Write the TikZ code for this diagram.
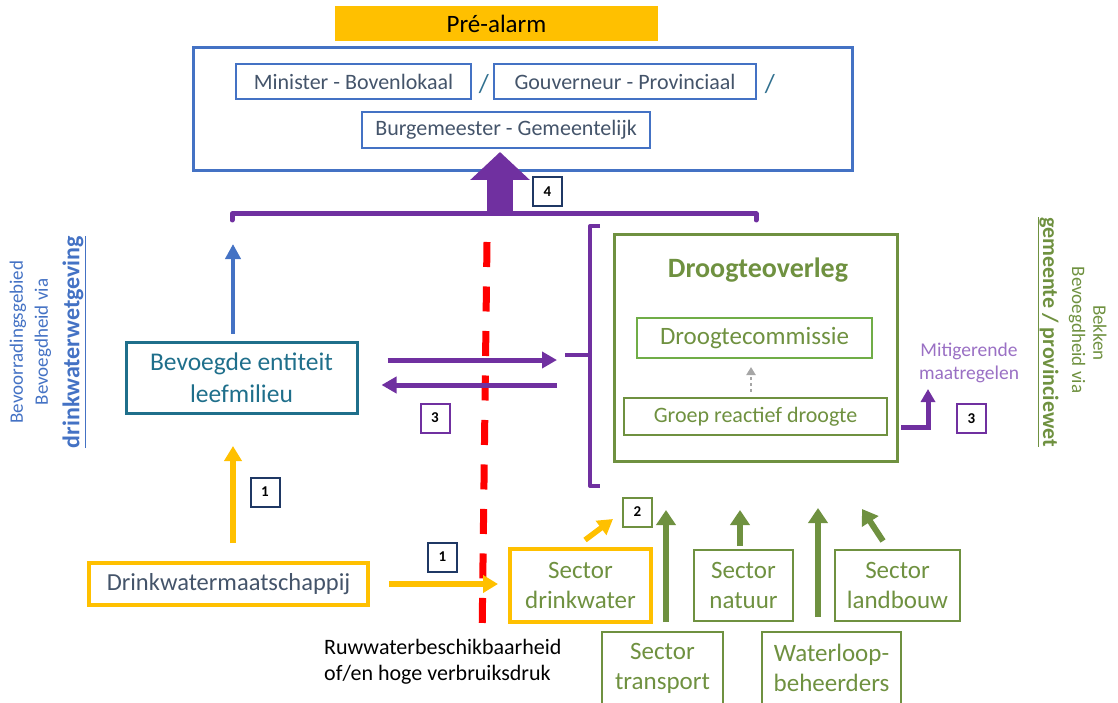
\documentclass[tikz,border=0pt]{standalone}
\usepackage{fontspec}
\setmainfont{Carlito}
\usetikzlibrary{arrows.meta}
\definecolor{cblue}{HTML}{4472C4}
\definecolor{corange}{HTML}{FFC000}
\definecolor{cpurple}{HTML}{7030A0}
\definecolor{clpurple}{HTML}{9A70C4}
\definecolor{cgreen}{HTML}{6F9140}
\definecolor{clgreen}{HTML}{70AD47}
\definecolor{cteal}{HTML}{1F6F8B}
\definecolor{cslash}{HTML}{31708F}
\definecolor{cslate}{HTML}{44546A}
\definecolor{cnavy}{HTML}{1F3864}
\definecolor{cred}{HTML}{FF0000}
\newcommand\fsz[2]{\fontsize{#1}{#2}\selectfont}
\tikzset{
  box/.style={draw, inner sep=0pt, align=center},
  topbox/.style={box, draw=cblue, line width=2.5pt, minimum height=35pt, text=cslate, font=\fsz{22}{26}},
  greenbox/.style={box, draw=cgreen, line width=2pt, text=cgreen, font=\fsz{25}{30}},
  numbox/.style={draw, line width=2pt, minimum width=29pt, minimum height=29pt, inner sep=0pt, font=\fsz{15}{18}\bfseries},
  slash/.style={text=cslash, font=\fsz{26}{30}},
  parrow/.style={cpurple, line width=5pt, -{Triangle[width=16pt,length=15pt]}},
  yarrow/.style={corange, line width=5.5pt, -{Triangle[width=17pt,length=15pt]}},
  garrow/.style={cgreen, line width=6pt, -{Triangle[width=19pt,length=15pt]}},
}
\begin{document}
\begin{tikzpicture}[x=1pt,y=-1pt]
\useasboundingbox (0,0) rectangle (1118,703);
% top
\node[fill=corange, minimum width=323pt, minimum height=35pt, inner sep=0pt, font=\fsz{25}{30}] (pre) at (496.5,23.5) {Pré-alarm};
\node[box, draw=cblue, line width=3pt, minimum width=659pt, minimum height=123pt] (top) at (522.5,109.5) {};
\node[topbox, minimum width=235pt] (min) at (353.5,81.5) {Minister - Bovenlokaal};
\node[topbox, minimum width=262pt] (gou) at (625,81.5) {Gouverneur - Provinciaal};
\node[slash] (s1) at (484,84) {/};
\node[slash] (s2) at (770,84) {/};
\node[topbox, minimum width=288pt, minimum height=36pt] (bur) at (506,130) {Burgemeester - Gemeentelijk};
% bracket and big arrow
\coordinate (bl) at (232,214);
\coordinate (br) at (756,214);
\coordinate (bm) at (500,214);
\coordinate (bigtip) at (500,152);
\draw[cpurple, line width=5pt, line join=round, line cap=round] ([yshift=-6pt]bl) -- (bl) -- (br) -- ([yshift=-6pt]br);
\draw[cpurple, line width=26pt, -{Triangle[width=58pt,length=28pt]}] ([yshift=3pt]bm) -- (bigtip);
\node[numbox, draw=cnavy] (n4) at (547.5,192) {4};
% left rotated texts
\node[rotate=90, text=cblue, font=\fsz{19}{24}] (l1) at (18,342) {Bevoorradingsgebied};
\node[rotate=90, text=cblue, font=\fsz{19}{24}] (l2) at (43,342) {Bevoegdheid via};
\node[rotate=90, text=cblue, font=\fsz{24}{28}\bfseries] (l3) at (74,342) {\underline{drinkwaterwetgeving}};
% right rotated texts
\node[rotate=-90, text=cgreen, font=\fsz{19}{24}] (r1) at (1100,333) {Bekken};
\node[rotate=-90, text=cgreen, font=\fsz{19}{24}] (r2) at (1077,330) {Bevoegdheid via};
\node[rotate=-90, text=cgreen, font=\fsz{22}{26}\bfseries] (r3) at (1048,332) {\underline{gemeente / provinciewet}};
% Bevoegde entiteit
\node[box, draw=cteal, text=cteal, line width=3pt, minimum width=231pt, minimum height=71pt, font=\fsz{25.5}{32}] (bev) at (241.5,377.5) {Bevoegde entiteit\\leefmilieu};
\coordinate (btip) at (233,244);
\draw[cblue, line width=4.5pt, -{Triangle[width=15pt,length=15pt]}, shorten <=7pt] (bev.north -| btip) -- (btip);
% red dashed line
\coordinate (rtop) at (487,242);
\coordinate (rbot) at (482,642);
\draw[cred, line width=7pt, dash pattern=on 25pt off 19.5pt] (rtop) -- (rbot);
% brace
\coordinate (bt) at (590,226);
\coordinate (bb) at (590,486);
\coordinate (bmid) at (590,355);
\draw[cpurple, line width=4pt, line join=round] ([xshift=10pt]bt) -- (bt) -- (bb) -- ([xshift=10pt]bb);
\draw[cpurple, line width=4pt] (bmid) -- ++(-25,0);
% purple arrows
\coordinate (pa1e) at (557,360);
\coordinate (pa2s) at (557,385);
\draw[parrow, shorten <=29pt] (bev.east |- pa1e) -- (pa1e);
\draw[parrow, shorten >=23pt] (pa2s) -- (bev.east |- pa2s);
\node[numbox, draw=cpurple] (n3a) at (435,418) {3};
% Droogteoverleg
\node[box, draw=cgreen, line width=3pt, minimum width=283pt, minimum height=226pt] (dro) at (755.5,348) {};
\node[text=cgreen, font=\fsz{28}{32}\bfseries] (drot) at (758,270) {Droogteoverleg};
\node[box, draw=clgreen, line width=2pt, text=cgreen, minimum width=235pt, minimum height=40pt, font=\fsz{25}{28}] (com) at (754.5,338) {Droogtecommissie};
\node[box, draw=cgreen, line width=2pt, text=cgreen, minimum width=263pt, minimum height=37pt, font=\fsz{22}{26}] (grp) at (755.5,416.5) {Groep reactief droogte};
\draw[gray!70, line width=2.5pt, dash pattern=on 3pt off 3pt, -{Triangle[width=9pt,length=8pt]}, shorten <=5pt, shorten >=8pt] ([xshift=-4.5pt]grp.north) -- ([xshift=-3.5pt]com.south);
% mitigerende
\coordinate (elb) at (928,427);
\coordinate (mtip) at (928,389);
\draw[cpurple, line width=5pt, -{Triangle[width=14pt,length=13pt]}, shorten <=13pt] (grp.east |- elb) -- (elb) -- (mtip);
\node[text=clpurple, font=\fsz{19.5}{23.5}, align=center] (mit) at (969,363) {Mitigerende\\maatregelen};
\node[numbox, draw=cpurple] (n3b) at (971.5,418.5) {3};
% Drinkwatermaatschappij
\node[box, draw=corange, line width=4pt, text=cslate, minimum width=279pt, minimum height=42pt, font=\fsz{24.5}{28}] (dw) at (228.5,584) {Drinkwatermaatschappij};
\coordinate (ytip) at (233,446);
\draw[yarrow, shorten <=18pt] (dw.north -| ytip) -- (ytip);
\node[numbox, draw=cnavy] (n1a) at (265,492) {1};
% sectors
\node[box, draw=corange, line width=4pt, text=cgreen, minimum width=141pt, minimum height=73pt, font=\fsz{25}{30}] (sdw) at (580.5,585.5) {Sector\\drinkwater};
\draw[yarrow, shorten <=19pt, shorten >=10pt] (dw.east) -- (sdw.west |- dw.east);
\node[numbox, draw=cnavy] (n1b) at (442.5,557) {1};
\coordinate (yd) at (613,519);
\draw[yarrow] ([shift={(4.5pt,7pt)}]sdw.north) -- (yd);
\node[numbox, draw=cgreen] (n2) at (637.5,512) {2};
\node[greenbox, minimum width=99pt, minimum height=71pt] (snat) at (743.5,585.5) {Sector\\natuur};
\node[greenbox, minimum width=125pt, minimum height=71pt] (sland) at (897.5,585.5) {Sector\\landbouw};
\node[greenbox, minimum width=121pt, minimum height=72pt] (str) at (662.5,668) {Sector\\transport};
\node[greenbox, minimum width=139pt, minimum height=72pt] (wlb) at (831.5,668) {Waterloop-\\beheerders};
\coordinate (g1) at (666,510);
\coordinate (g2) at (740,510);
\coordinate (g3) at (818,508);
\coordinate (g4) at (862,509);
\draw[garrow, shorten <=9pt] (str.north -| g1) -- (g1);
\draw[garrow, shorten <=3pt] (snat.north -| g2) -- (g2);
\draw[garrow, shorten <=14pt] (wlb.north -| g3) -- (g3);
\draw[garrow] ([shift={(-14.5pt,8pt)}]sland.north) -- (g4);
% Ruwwater text
\node[anchor=north west, font=\fsz{22}{26}, align=left, inner sep=0pt] (ruw) at (324,639) {Ruwwaterbeschikbaarheid\\of/en hoge verbruiksdruk};
\end{tikzpicture}
\end{document}
